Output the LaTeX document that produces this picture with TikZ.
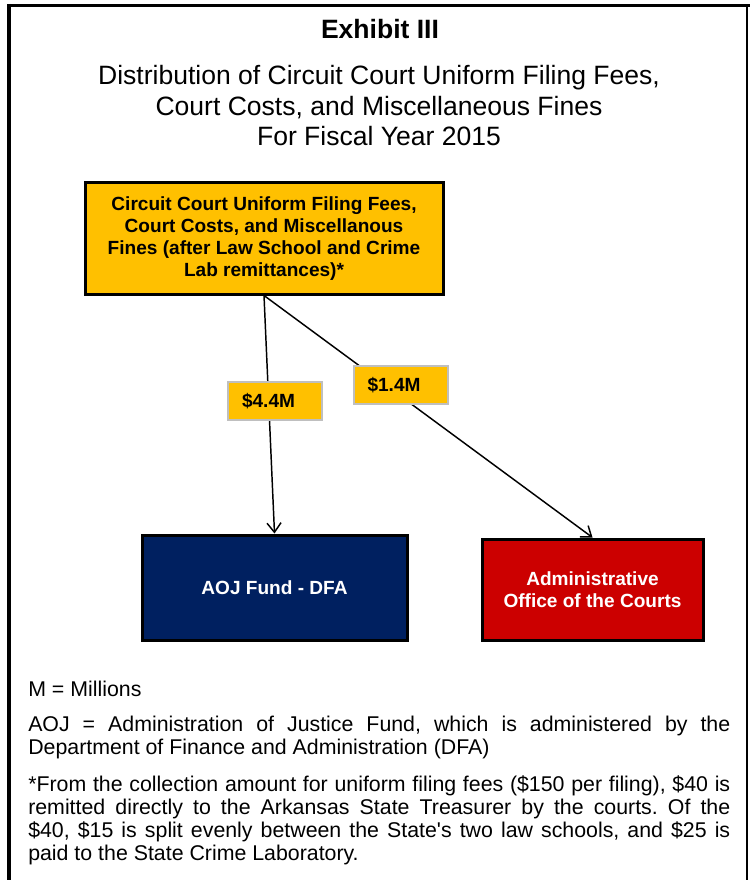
\documentclass[tikz,border=0pt]{standalone}
\usepackage{fontspec}
\setmainfont{Liberation Sans}
\usepackage{xcolor}
\usepackage{tikz}
\usetikzlibrary{arrows.meta}
\tolerance=9999
\hbadness=10000
\frenchspacing

\definecolor{poolyellow}{RGB}{255,192,0}
\definecolor{aojnavy}{RGB}{0,32,96}
\definecolor{aocred}{RGB}{204,0,0}
\definecolor{tagborder}{RGB}{191,191,191}

\begin{document}
\begin{tikzpicture}[x=0.75pt,y=0.75pt,yscale=-1,xscale=1,
  fundbox/.style={draw=black,line width=2.25pt,align=center,inner sep=0pt,font=\fontsize{14.3}{16.3}\selectfont\bfseries},
  amounttag/.style={fill=poolyellow,draw=tagborder,line width=1.5pt,text width=49.5pt,inner xsep=10.5pt,minimum height=28.5pt,align=left,font=\fontsize{14.3}{16.3}\selectfont\bfseries},
  flowline/.style={-{Straight Barb[length=7pt,width=10.5pt]},line width=1.1pt},
  notetext/.style={anchor=base west,inner sep=0pt,text width=526.5pt,align=justify,font=\fontsize{16}{17.3}\selectfont}]
\useasboundingbox (0,0) rectangle (750,880);

%Straight Lines
\draw [line width=2.25pt]  (7,5.5) -- (750,5.5) ;
%Straight Lines
\draw [line width=2.6pt]  (9,4) -- (9,880) ;
%Straight Lines
\draw [line width=1.1pt]  (747,5.5) -- (747,880) ;

% Text Node
\node [anchor=base,inner sep=0pt,font=\fontsize{19.9}{22.9}\selectfont\bfseries] (title) at (380,39) {Exhibit III};
% Text Node
\node [anchor=base,inner sep=0pt,align=center,font=\fontsize{19.9}{22.9}\selectfont] (subtitle) at (379,146) {Distribution of Circuit Court Uniform Filing Fees,\\Court Costs, and Miscellaneous Fines\\For Fiscal Year 2015};

%Shape: Rectangle
\node [fundbox,fill=poolyellow,minimum width=268.5pt,minimum height=83.25pt] (pool) at (264,238.5) {Circuit Court Uniform Filing Fees,\\Court Costs, and Miscellanous\\Fines (after Law School and Crime\\Lab remittances)*};
%Shape: Rectangle
\node [fundbox,fill=aojnavy,text=white,minimum width=198.75pt,minimum height=78.75pt] (aoj) at (274.5,587.5) {AOJ Fund - DFA};
%Shape: Rectangle
\node [fundbox,fill=aocred,text=white,minimum width=165.75pt,minimum height=75.75pt] (aoc) at (592.5,589.5) {Administrative\\Office of the Courts};

%Straight Lines
\draw [flowline]  (pool.south) -- (aoj.north) ;
%Straight Lines
\draw [flowline]  (pool.south) -- (aoc.north) ;

% Text Node
\node [amounttag] (tagaoj) at (275,401) {\$4.4M};
% Text Node
\node [amounttag] (tagaoc) at (400.5,385) {\$1.4M};

% Text Node
\node [anchor=base west,inner sep=0pt,font=\fontsize{16}{17.3}\selectfont] (millions) at (28,696) {M = Millions};
% Text Node
\node [notetext] (aojnote) at (28,731) {AOJ = Administration of Justice Fund, which is administered by the\linebreak Department of Finance and Administration (DFA)};
% Text Node
\node [notetext] (starnote) at (28,791) {*From the collection amount for uniform filing fees (\$150 per filing), \$40 is\linebreak remitted directly to the Arkansas State Treasurer by the courts. Of the\linebreak \$40, \$15 is split evenly between the State\textquotesingle s two law schools, and \$25 is\linebreak paid to the State Crime Laboratory.};

\end{tikzpicture}
\end{document}
